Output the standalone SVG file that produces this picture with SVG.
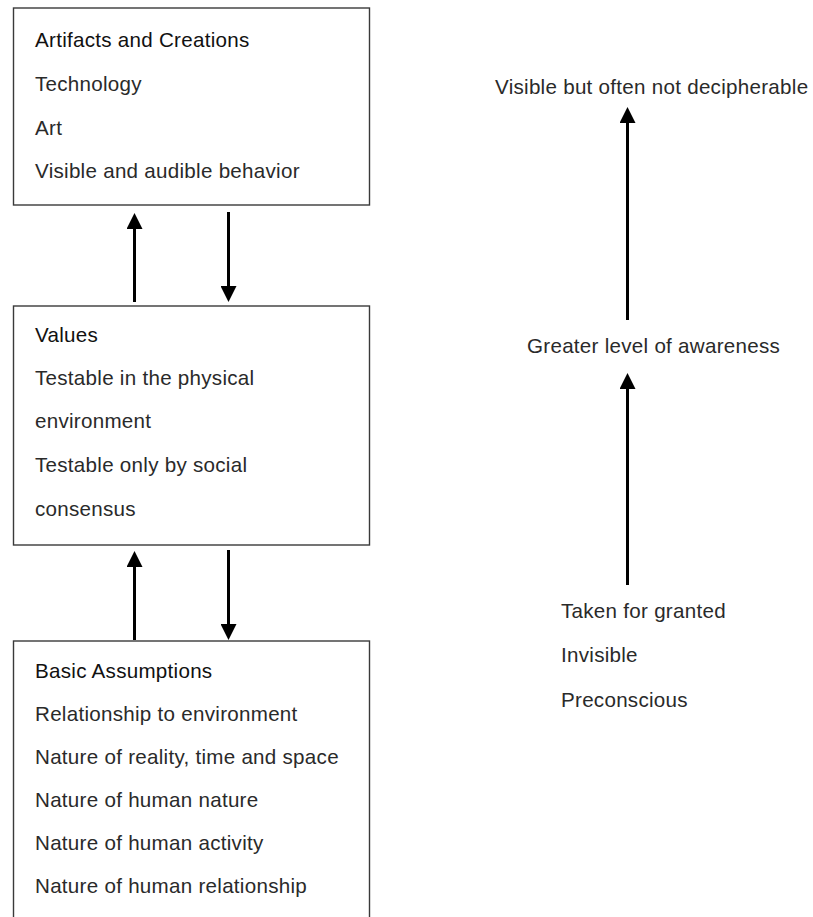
<svg xmlns="http://www.w3.org/2000/svg" width="813" height="917" viewBox="0 0 813 917">
  <defs>
    <marker id="head" markerUnits="userSpaceOnUse" markerWidth="16" markerHeight="16" refX="0" refY="8" orient="auto">
      <path d="M0,0 L16,8 L0,16 z" fill="#000"/>
    </marker>
    <style>
      .box { fill: #fff; stroke: #3a3a3a; stroke-width: 1.4; }
      .t { font-family: "Liberation Sans", Arial, sans-serif; font-size: 20.6px; letter-spacing: 0.27px; fill: #2a2a2a; }
      .h { fill: #111; }
      .arr { stroke: #000; stroke-width: 3; fill: none; marker-end: url(#head); }
    </style>
  </defs>
  <rect width="813" height="917" fill="#fff"/>

  <g id="artifacts">
    <rect class="box" x="13.5" y="8" width="356" height="197"/>
    <text class="t h" x="35" y="47">Artifacts and Creations</text>
    <text class="t" x="35" y="91">Technology</text>
    <text class="t" x="35" y="135">Art</text>
    <text class="t" x="35" y="178">Visible and audible behavior</text>
  </g>

  <g id="values">
    <rect class="box" x="13.5" y="306" width="356" height="239"/>
    <text class="t h" x="35" y="342">Values</text>
    <text class="t" x="35" y="385">Testable in the physical</text>
    <text class="t" x="35" y="428">environment</text>
    <text class="t" x="35" y="472">Testable only by social</text>
    <text class="t" x="35" y="516">consensus</text>
  </g>

  <g id="assumptions">
    <rect class="box" x="13.5" y="641" width="356" height="300"/>
    <text class="t h" x="35" y="678">Basic Assumptions</text>
    <text class="t" x="35" y="721">Relationship to environment</text>
    <text class="t" x="35" y="764">Nature of reality, time and space</text>
    <text class="t" x="35" y="807">Nature of human nature</text>
    <text class="t" x="35" y="850">Nature of human activity</text>
    <text class="t" x="35" y="893">Nature of human relationship</text>
  </g>

  <g id="visible">
    <text class="t" x="495" y="94">Visible but often not decipherable</text>
  </g>
  <g id="awareness">
    <text class="t" x="527" y="353">Greater level of awareness</text>
  </g>
  <g id="taken">
    <text class="t" x="561" y="618">Taken for granted</text>
    <text class="t" x="561" y="662">Invisible</text>
    <text class="t" x="561" y="707">Preconscious</text>
  </g>

  <g id="connectors">
    <line class="arr" x1="134.5" y1="302" x2="134.5" y2="229"/>
    <line class="arr" x1="228.5" y1="212" x2="228.5" y2="286"/>
    <line class="arr" x1="134.5" y1="640" x2="134.5" y2="567"/>
    <line class="arr" x1="228.5" y1="550" x2="228.5" y2="624"/>
    <line class="arr" x1="627.5" y1="320" x2="627.5" y2="123"/>
    <line class="arr" x1="627.5" y1="585" x2="627.5" y2="389"/>
  </g>
</svg>
